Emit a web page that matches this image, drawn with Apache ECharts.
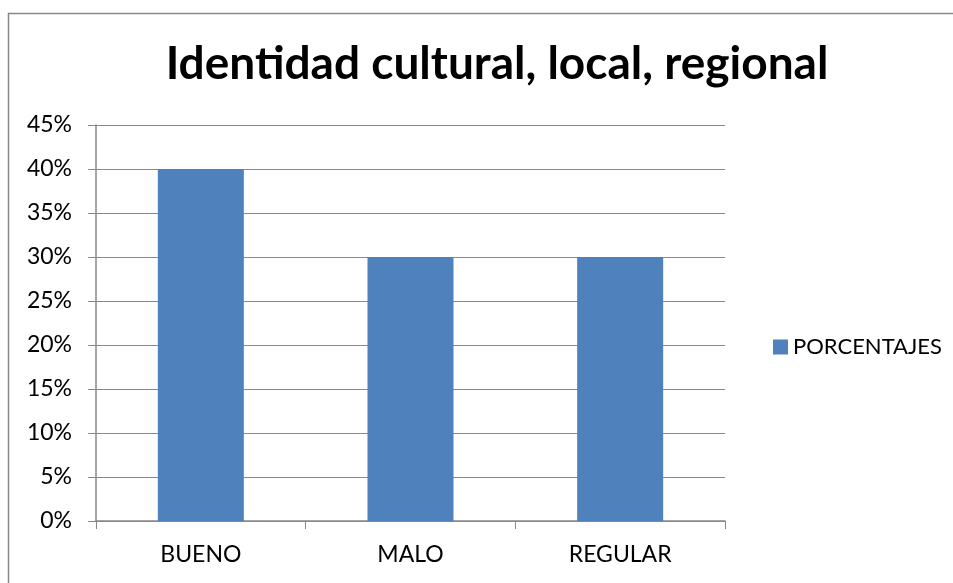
<!DOCTYPE html>
<html>
<head>
<meta charset="utf-8">
<script src="https://cdn.jsdelivr.net/npm/echarts@6/dist/echarts.min.js"></script>
<style>
  html, body { margin: 0; padding: 0; background: #fff; }
  #main { width: 953px; height: 583px; }
</style>
</head>
<body>
<div id="main"></div>
<script>
const categories = ['BUENO', 'MALO', 'REGULAR'];
const porcentajes = [40, 30, 30];
const seriesName = 'PORCENTAJES';

let chartDom = document.getElementById('main');
let myChart = echarts.init(chartDom);
let font = 'Lato, "Open Sans", sans-serif';

let option = {
    animation: false,
    backgroundColor: '#fff',
    title: {
        text: 'Identidad cultural, local, regional',
        left: 492,
        top: 36,
        textAlign: 'center',
        textStyle: { fontFamily: font, fontSize: 46, fontWeight: 'bold', color: '#000' }
    },
    legend: {
        data: [seriesName],
        orient: 'vertical',
        left: 768,
        top: 331,
        icon: 'rect',
        itemWidth: 15,
        itemHeight: 15,
        itemGap: 7,
        textStyle: { fontFamily: font, fontSize: 22, color: '#000' }
    },
    graphic: [{
        type: 'rect',
        shape: { x: 8.5, y: 13.5, width: 1000, height: 1000 },
        style: { fill: 'none', stroke: '#888', lineWidth: 1.5 }
    }],
    grid: { left: 96, right: 228, top: 125, bottom: 62 },
    xAxis: {
        type: 'category',
        data: categories,
        axisLine: { lineStyle: { color: '#888', width: 1.5 } },
        axisTick: { show: true, length: 8, lineStyle: { color: '#888' } },
        axisLabel: { margin: 22, fontFamily: font, fontSize: 23, color: '#000' }
    },
    yAxis: {
        type: 'value',
        min: 0,
        max: 45,
        interval: 5,
        axisLine: { show: true, lineStyle: { color: '#888', width: 1.5 } },
        axisTick: { show: true, length: 8, lineStyle: { color: '#888' } },
        splitLine: { lineStyle: { color: '#888', width: 1.2 } },
        axisLabel: {
            margin: 24,
            fontFamily: font,
            fontSize: 23,
            color: '#000',
            formatter: v => v + '%'
        }
    },
    series: [{
        name: seriesName,
        type: 'bar',
        data: porcentajes,
        barWidth: 86,
        itemStyle: { color: '#4F81BD' }
    }]
};

option && myChart.setOption(option);
</script>
</body>
</html>
